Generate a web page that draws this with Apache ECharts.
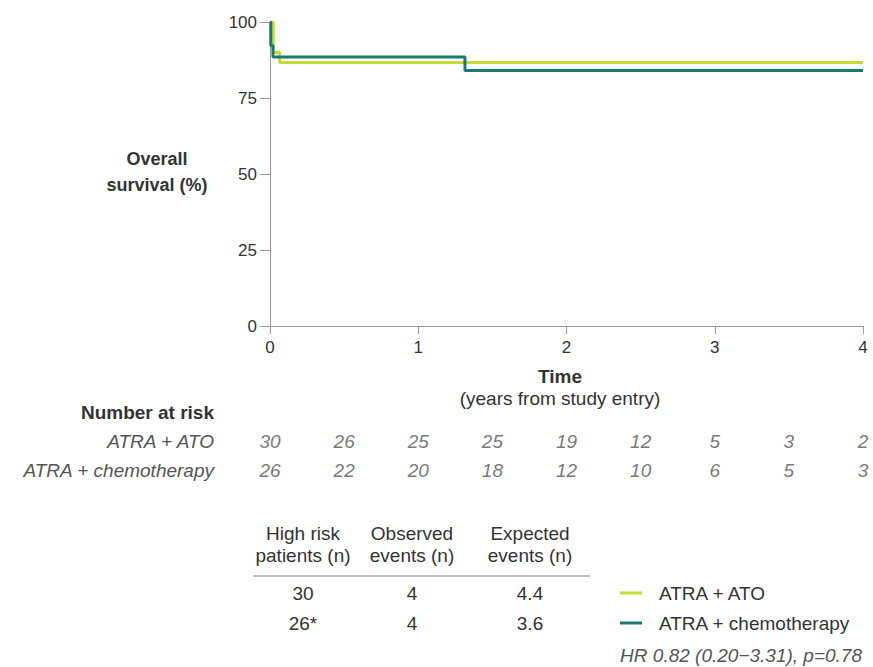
<!DOCTYPE html>
<html>
<head>
<meta charset="utf-8">
<script src="https://cdn.jsdelivr.net/npm/echarts@6/dist/echarts.min.js"></script>
<style>
html,body{margin:0;padding:0;background:#fff;}
#c{width:873px;height:667px;}
</style>
</head>
<body>
<div id="c"></div>
<script>
// ---- data ----
const seriesNames = ['ATRA + ATO', 'ATRA + chemotherapy'];
const atoTimes = [0, 0.022, 0.065, 4];
const atoSurvival = [100, 90, 86.67, 86.67];
const chemoTimes = [0, 0.005, 0.02, 1.315, 4];
const chemoSurvival = [100, 92.31, 88.46, 84.04, 84.04];
const yTicks = [0, 25, 50, 75, 100];
const xTicks = [0, 1, 2, 3, 4];
const riskTimes = [0, 0.5, 1, 1.5, 2, 2.5, 3, 3.5, 4];
const riskATO = [30, 26, 25, 25, 19, 12, 5, 3, 2];
const riskChemo = [26, 22, 20, 18, 12, 10, 6, 5, 3];
const tableHeader1 = ['High risk', 'Observed', 'Expected'];
const tableHeader2 = ['patients (n)', 'events (n)', 'events (n)'];
const tableRowATO = ['30', '4', '4.4'];
const tableRowChemo = ['26*', '4', '3.6'];
const hrText = 'HR 0.82 (0.20\u22123.31), p=0.78';

const colors = ['#c5da32', '#1a7a6e'];
const FONT = '"Liberation Sans", Arial, Helvetica, sans-serif';
const TXT = '#333333';
const GRAY = '#555555';

const pairs = (xs, ys) => xs.map((x, i) => [x, ys[i]]);

const chart = echarts.init(document.getElementById('c'), null, {renderer: 'svg'});

const colX = [303, 412, 530];
const graphics = [];
// axis titles
graphics.push({type: 'text', x: 157, y: 172, style: {text: 'Overall\nsurvival (%)', font: 'bold 18px ' + FONT, fill: TXT, align: 'center', verticalAlign: 'middle', lineHeight: 26}});
graphics.push({type: 'text', x: 560, y: 376, style: {text: 'Time', font: 'bold 19px ' + FONT, fill: TXT, align: 'center', verticalAlign: 'middle'}});
graphics.push({type: 'text', x: 560, y: 398, style: {text: '(years from study entry)', font: '19px ' + FONT, fill: TXT, align: 'center', verticalAlign: 'middle'}});
graphics.push({type: 'text', x: 214, y: 412, style: {text: 'Number at risk', font: 'bold 19px ' + FONT, fill: TXT, align: 'right', verticalAlign: 'middle'}});
// table
tableHeader1.forEach((t, i) => graphics.push({type: 'text', x: colX[i], y: 533, style: {text: t, font: '19px ' + FONT, fill: TXT, align: 'center', verticalAlign: 'middle'}}));
tableHeader2.forEach((t, i) => graphics.push({type: 'text', x: colX[i], y: 555, style: {text: t, font: '19px ' + FONT, fill: TXT, align: 'center', verticalAlign: 'middle'}}));
graphics.push({type: 'line', shape: {x1: 253, y1: 576, x2: 590, y2: 576}, style: {stroke: '#bdbdbd', lineWidth: 2}});
tableRowATO.forEach((t, i) => graphics.push({type: 'text', x: colX[i], y: 593, style: {text: t, font: '19px ' + FONT, fill: TXT, align: 'center', verticalAlign: 'middle'}}));
tableRowChemo.forEach((t, i) => graphics.push({type: 'text', x: colX[i], y: 623, style: {text: t, font: '19px ' + FONT, fill: TXT, align: 'center', verticalAlign: 'middle'}}));
graphics.push({type: 'text', x: 862, y: 655, style: {text: hrText, font: 'italic 19px ' + FONT, fill: GRAY, align: 'right', verticalAlign: 'middle'}});

const axisGray = '#9a9a9a';

const riskLabel = {show: true, position: 'inside', formatter: p => String(p.value[2]), fontFamily: FONT, fontSize: 19, fontStyle: 'italic', color: GRAY};

const option = {
  animation: false,
  backgroundColor: '#ffffff',
  color: colors,
  grid: [
    {left: 270, right: 10, top: 22, height: 304},
    {left: 270, right: 10, top: 427, height: 58}
  ],
  legend: {
    orient: 'vertical',
    left: 620,
    top: 583,
    padding: 0,
    itemWidth: 22,
    itemHeight: 3,
    itemGap: 10,
    icon: 'rect',
    data: seriesNames,
    textStyle: {fontFamily: FONT, fontSize: 19, color: TXT, lineHeight: 20, padding: [0, 0, 0, 12]},
    selectedMode: false
  },
  xAxis: [
    {
      gridIndex: 0, type: 'value', min: 0, max: 4, interval: 1,
      axisLine: {lineStyle: {color: axisGray, width: 1}},
      axisTick: {show: true, length: 8, lineStyle: {color: axisGray}},
      axisLabel: {fontFamily: FONT, fontSize: 17, color: TXT, margin: 13},
      splitLine: {show: false}
    },
    {gridIndex: 1, type: 'value', min: 0, max: 4, show: false}
  ],
  yAxis: [
    {
      gridIndex: 0, type: 'value', min: 0, max: 100, interval: 25,
      axisLine: {show: true, lineStyle: {color: axisGray, width: 1}},
      axisTick: {show: true, length: 10, lineStyle: {color: axisGray}},
      axisLabel: {fontFamily: FONT, fontSize: 17, color: TXT, margin: 13},
      splitLine: {show: false}
    },
    {
      gridIndex: 1, type: 'category', data: seriesNames.slice().reverse(),
      axisLine: {show: false}, axisTick: {show: false}, splitLine: {show: false},
      axisLabel: {fontFamily: FONT, fontSize: 19, fontStyle: 'italic', color: GRAY, margin: 56}
    }
  ],
  graphic: graphics,
  series: [
    {
      name: seriesNames[0], type: 'line', step: 'end', xAxisIndex: 0, yAxisIndex: 0,
      data: pairs(atoTimes, atoSurvival), showSymbol: false, symbol: 'none',
      lineStyle: {width: 3, color: colors[0]}, itemStyle: {color: colors[0]}, z: 3
    },
    {
      name: seriesNames[1], type: 'line', step: 'end', xAxisIndex: 0, yAxisIndex: 0,
      data: pairs(chemoTimes, chemoSurvival), showSymbol: false, symbol: 'none',
      lineStyle: {width: 3, color: colors[1]}, itemStyle: {color: colors[1]}, z: 4
    },
    {
      name: 'riskATO', type: 'scatter', xAxisIndex: 1, yAxisIndex: 1,
      data: riskTimes.map((t, i) => [t, 1, riskATO[i]]),
      symbolSize: 2, itemStyle: {color: 'rgba(255,255,255,0)'}, silent: true,
      label: riskLabel
    },
    {
      name: 'riskChemo', type: 'scatter', xAxisIndex: 1, yAxisIndex: 1,
      data: riskTimes.map((t, i) => [t, 0, riskChemo[i]]),
      symbolSize: 2, itemStyle: {color: 'rgba(255,255,255,0)'}, silent: true,
      label: riskLabel
    }
  ]
};
chart.setOption(option);
</script>
</body>
</html>
